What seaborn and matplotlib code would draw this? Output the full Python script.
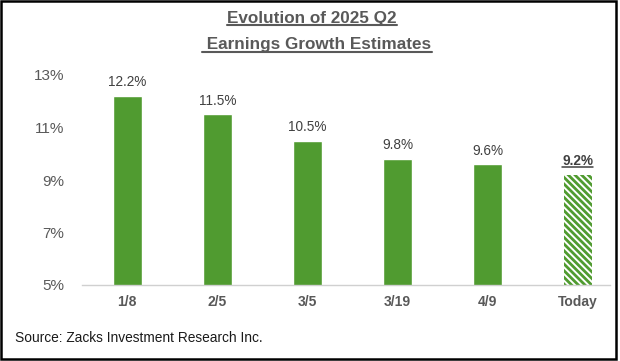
import matplotlib
matplotlib.use("Agg")
import matplotlib.pyplot as plt
from matplotlib.lines import Line2D
from matplotlib.patches import Rectangle
import seaborn as sns
import pandas as pd

dates = ["1/8", "2/5", "3/5", "3/19", "4/9", "Today"]
growth = [12.2, 11.5, 10.5, 9.8, 9.6, 9.2]
yticks = [5, 7, 9, 11, 13]

GREEN = "#509B30"
GRAY = "#595959"

sns.set_style("white")
plt.rcParams["font.family"] = ["Liberation Sans", "DejaVu Sans"]
plt.rcParams["hatch.linewidth"] = 2.0

df = pd.DataFrame({"date": dates, "growth": growth})

fig = plt.figure(figsize=(6.2, 3.61), dpi=100)
ax = fig.add_axes([82 / 620, 1 - 285 / 361, (610 - 82) / 620, (285 - 75) / 361])

sns.barplot(data=df, x="date", y="growth", color=GREEN, width=0.32,
            saturation=1, ax=ax)

# last bar ("Today") is hatched
last = ax.patches[-1]
last.set_facecolor("white")
last.set_edgecolor(GREEN)
last.set_linewidth(0)
last.set_hatch("\\\\\\\\\\")

ax.set_ylim(5, 13)
ax.set_xlim(-0.5, 5.5 - 13 / 90)
ax.set_yticks(yticks)
ax.set_yticklabels([f"{v}%" for v in yticks], color=GRAY, fontsize=11)
ax.set_xticks(range(len(dates)))
ax.set_xticklabels(dates, color=GRAY, fontsize=10, fontweight="bold")
ax.tick_params(axis="both", length=0)
ax.tick_params(axis="y", pad=13)
ax.tick_params(axis="x", pad=7)
ax.set_xlabel("")
ax.set_ylabel("")
for s in ["top", "right", "left"]:
    ax.spines[s].set_visible(False)
ax.spines["bottom"].set_color("#D0D0D0")
ax.spines["bottom"].set_linewidth(1)

labels = []
for i, v in enumerate(growth):
    if i == len(growth) - 1:
        t = ax.text(i, v + 0.25, f"{v}%", ha="center", va="bottom",
                    fontsize=9.8, fontweight="bold", color="#404040")
        labels.append(t)
    else:
        ax.text(i, v + 0.25, f"{v}%", ha="center", va="bottom",
                fontsize=9.8, color="#404040")

t1 = fig.text(312 / 620, 1 - 18 / 361, "Evolution of 2025 Q2", ha="center",
              va="center", fontsize=12.3, fontweight="bold", color=GRAY)
t2 = fig.text(317 / 620, 1 - 45 / 361, " Earnings Growth Estimates", ha="center",
              va="center", fontsize=12.3, fontweight="bold", color=GRAY)

fig.text(15 / 620, 1 - 338 / 361, "Source: Zacks Investment Research Inc.",
         ha="left", va="center", fontsize=9.9, color="#1A1A1A")

# underlines
fig.canvas.draw()
r = fig.canvas.get_renderer()
for t, col, lw in [(t1, GRAY, 1.5), (t2, GRAY, 1.5), (labels[0], "#404040", 1.1)]:
    bb = t.get_window_extent(renderer=r).transformed(fig.transFigure.inverted())
    y = bb.y0 + 0.002
    fig.add_artist(Line2D([bb.x0, bb.x1], [y, y], transform=fig.transFigure,
                          color=col, lw=lw))

fig.add_artist(Rectangle((0.002, 0.006), 0.992, 0.99, transform=fig.transFigure,
                         fill=False, edgecolor="black", lw=1.8))

fig.savefig("out.png", dpi=100)
